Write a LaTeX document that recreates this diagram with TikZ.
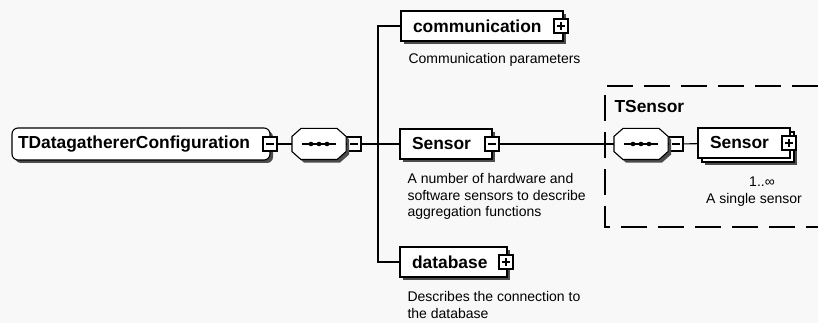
\documentclass[tikz,border=0pt]{standalone}
\usepackage{fontspec}
\setmainfont{Liberation Sans}
\usetikzlibrary{shadows}
\definecolor{bgc}{RGB}{248,248,248}
\newcommand{\elemfont}{\fontsize{17.4}{20}\selectfont\bfseries}
\newcommand{\docfont}{\fontsize{14}{16.5}\selectfont}
\begin{document}
\begin{tikzpicture}[x=1pt, y=-1pt, line width=1.1pt,
	box/.style={draw, fill=white, font=\elemfont, align=left, inner xsep=12pt, inner ysep=0pt, minimum height=30pt},
	shade/.style={drop shadow={shadow xshift=3pt, shadow yshift=-3pt, fill=black!70, opacity=1}},
	elem/.style={box, shade},
	elemmany/.style={box, general shadow={shadow xshift=7pt, shadow yshift=-7pt, fill=black!70, opacity=1}, copy shadow={shadow xshift=4pt, shadow yshift=-4pt, fill=white, draw=black, opacity=1}},
	root/.style={elem, rounded corners=6pt, inner xsep=6pt, text width=246pt, minimum height=32pt},
	seq/.style={minimum width=53pt, minimum height=30pt, inner sep=0pt},
	btn/.style={draw, fill=white, minimum size=14pt, inner sep=0pt},
	minus/.style={btn, path picture={\draw ([xshift=-4pt]path picture bounding box.center) -- ([xshift=4pt]path picture bounding box.center);}},
	plus/.style={btn, path picture={\draw ([xshift=-4pt]path picture bounding box.center) -- ([xshift=4pt]path picture bounding box.center);
		\draw ([yshift=-4pt]path picture bounding box.center) -- ([yshift=4pt]path picture bounding box.center);}},
	doc/.style={font=\docfont, align=left, inner sep=0pt},
	title/.style={font=\elemfont, inner sep=0pt},
	groupbox/.style={dash pattern=on 26pt off 11pt}]
	\path[use as bounding box, fill=bgc] (0,0) rectangle (818,323);

	% TSensor group
	\draw[groupbox] (818,86) -- (605,86) -- (605,227) -- (818,227);
	\node[title, anchor=west] (tsensor) at (614,107) {TSensor};

	% root and its sequence
	\node[root] (cfg) at (141,144) {TDatagathererConfiguration};
	\node[minus] (cfgbtn) at (270,144) {};
	\node[seq] (seq1) at (319,144) {};
	\node[minus] (seq1btn) at (354,144) {};
	\coordinate (trunk) at (378,144);

	% children
	\node[elem, text width=138pt] (comm) at (482,26) {communication};
	\node[plus] (commbtn) at (561,26) {};
	\node[doc, anchor=west] (commdoc) at (408,60) {Communication parameters};

	\node[elem, text width=68pt] (sensor) at (446,144) {Sensor};
	\node[minus] (sensorbtn) at (492,144) {};
	\node[doc, anchor=west] (sensordoc) at (407,196.5) {A number of hardware and\\software sensors to describe\\aggregation functions};

	\node[elem, text width=83pt] (db) at (453.5,262) {database};
	\node[plus] (dbbtn) at (506,262) {};
	\node[doc, anchor=west] (dbdoc) at (407,305) {Describes the connection to\\the database};

	% TSensor content
	\node[seq] (seq2) at (641,144) {};
	\node[minus] (seq2btn) at (676,144) {};
	\node[elemmany, text width=68pt] (item) at (744,143) {Sensor};
	\node[plus] (itembtn) at (789,143) {};
	\node[doc] (occurs) at (762,182) {1..∞};
	\node[doc] (itemdoc) at (754,200) {A single sensor};

	% sequence compositors
	\foreach \s in {seq1,seq2} {
		\draw[fill=white, shade] ([xshift=9pt]\s.north west) -- ([xshift=-9pt]\s.north east)
			-- ([yshift=-8pt]\s.north east) -- ([yshift=8pt]\s.south east)
			-- ([xshift=-9pt]\s.south east) -- ([xshift=9pt]\s.south west)
			-- ([yshift=8pt]\s.south west) -- ([yshift=-8pt]\s.north west) -- cycle;
		\draw ([xshift=-17pt]\s.center) -- ([xshift=17pt]\s.center);
		\foreach \d in {-8,0,8}
			\fill ([xshift=\d pt]\s.center) circle (2.3pt);
	}

	% connectors
	\draw (cfgbtn) -- (seq1);
	\draw (seq1) -- (seq1btn);
	\draw (seq1btn) -- (sensor);
	\draw (comm.west) -| (trunk) |- (db.west);
	\draw (sensorbtn) -- (seq2);
	\draw (seq2) -- (seq2btn);
	\draw (seq2btn) -- (item);
\end{tikzpicture}
\end{document}
